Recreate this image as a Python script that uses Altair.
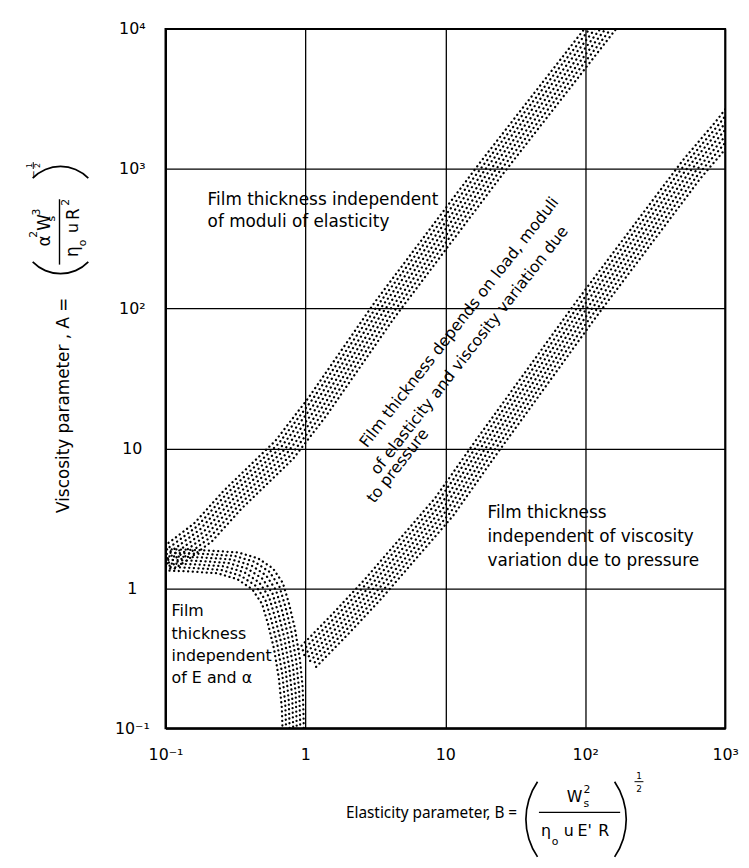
import math
import altair as alt
import pandas as pd

# ---------------- values ----------------
x_ticks = [0.1, 1, 10, 100, 1000]
x_tick_labels = ["10⁻¹", "1", "10", "10²", "10³"]
y_ticks = [0.1, 1, 10, 100, 1000, 10000]
y_tick_labels = ["10⁻¹", "1", "10", "10²", "10³", "10⁴"]

# centre lines of the stippled transition bands (B = elasticity, A = viscosity)
upper_band_B = [0.08, 0.1, 0.124, 0.186, 0.303, 0.707, 1.21, 3.67, 21.0, 128, 161]
upper_band_A = [1.6, 1.6, 1.85, 2.52, 4.32, 9.8, 19.7, 97.5, 986, 10000, 13400]

lower_band_B = [1.03, 1.76, 3.02, 9.76, 19.0, 100.5, 574, 1000, 1236]
lower_band_A = [0.318, 0.55, 0.98, 3.8, 9.77, 97.5, 986, 1895, 2500]

left_band_B = [0.08, 0.1, 0.171, 0.279, 0.387, 0.494, 0.582, 0.641, 0.707, 0.767, 0.805, 0.818, 0.82]
left_band_A = [1.6, 1.6, 1.57, 1.52, 1.38, 1.17, 0.918, 0.663, 0.441, 0.27, 0.166, 0.1, 0.08]

region_texts = [
    "Film thickness independent\nof moduli of elasticity",
    "Film\nthickness\nindependent\nof E and α",
    "Film thickness\nindependent of viscosity\nvariation due to pressure",
]
diagonal_lines = [
    "Film thickness depends on load, moduli",
    "of elasticity and viscosity variation due",
    "to pressure",
]

# ---------------- layout ----------------
FONT = "DejaVu Sans"
W, H = 565, 706
PX0, PY0 = 167, 25  # page position of the plot's top-left corner

x_scale = alt.Scale(type="log", domain=[0.1, 1000], nice=False)
y_scale = alt.Scale(type="log", domain=[0.1, 10000], nice=False)


def label_expr(vals, labels):
    parts = [f"datum.value == {v} ? '{l}'" for v, l in zip(vals, labels)]
    return " : ".join(parts) + " : ''"


x_axis = alt.Axis(values=x_ticks, labelExpr=label_expr(x_ticks, x_tick_labels), title=None,
                  grid=True, ticks=False, tickSize=0, labelPadding=19, labelFlush=False,
                  labelOverlap=False)
y_axis = alt.Axis(values=y_ticks, labelExpr=label_expr(y_ticks, y_tick_labels), title=None,
                  grid=True, ticks=False, tickSize=0, labelPadding=34, labelAlign="center",
                  labelBaseline="middle", labelFlush=False, labelOverlap=False)

X = alt.X("B:Q", scale=x_scale, axis=x_axis)
Y = alt.Y("A:Q", scale=y_scale, axis=y_axis)

layers = []

# invisible layer carrying the axes
layers.append(alt.Chart(pd.DataFrame({"B": x_ticks[:5], "A": y_ticks[:5]}))
              .mark_point(opacity=0).encode(x=X, y=Y))


def stipple(xs, ys, diag=True, offs=(-9, -6, -3, 0, 3, 6, 9)):
    df = pd.DataFrame({"B": xs, "A": ys, "i": list(range(len(xs)))})
    out = []
    for j, k in enumerate(offs):
        dx, dy = (k, k) if diag else (k, -k)
        out.append(
            alt.Chart(df).mark_line(
                clip=True, color="black", strokeWidth=2.3, strokeCap="round",
                strokeDash=[0.1, 4.6], strokeDashOffset=2.35 * (j % 2),
                xOffset=dx, yOffset=dy,
            ).encode(x=X, y=Y, order="i:Q")
        )
    return out


layers += stipple(upper_band_B, upper_band_A, True)
layers += stipple(lower_band_B, lower_band_A, True)
layers += stipple(left_band_B, left_band_A, False, offs=(-10.5, -7, -3.5, 0, 3.5, 7, 10.5))


# region labels (data coordinates)
def dtext(s, bx, ay, size=16, angle=0, align="left", lh=23):
    df = pd.DataFrame({"B": [bx], "A": [ay]})
    kw = dict(text=s, font=FONT, fontSize=size, align=align, baseline="alphabetic",
              color="black", lineBreak="\n", lineHeight=lh)
    if angle:
        kw["angle"] = angle
    return alt.Chart(df).mark_text(**kw).encode(x=X, y=Y)


layers.append(dtext(region_texts[0], 0.2, 548, size=17, lh=22))
layers.append(dtext(region_texts[1], 0.1105, 0.631, size=16, lh=22.5))
layers.append(dtext(region_texts[2], 20.0, 3.17, size=17, lh=24))
for s, bx, ay in zip(diagonal_lines, [2.75, 3.3, 3.1], [10.0, 6.4, 4.0]):
    layers.append(dtext(s, bx, ay, size=16, angle=308))

# ---------------- axis titles (page pixel positions) ----------------
one = pd.DataFrame({"k": [0]})


def ptext(s, x, y, size=16, angle=0, align="center", font=FONT):
    kw = dict(text=s, font=font, fontSize=size, align=align, baseline="alphabetic", color="black")
    if angle:
        kw["angle"] = angle
    return alt.Chart(one).mark_text(**kw).encode(x=alt.value(x - PX0), y=alt.value(y - PY0))


def prule(x1, y1, x2, y2, w=1.4):
    return alt.Chart(one).mark_rule(color="black", strokeWidth=w).encode(
        x=alt.value(x1 - PX0), x2=alt.value(x2 - PX0), y=alt.value(y1 - PY0), y2=alt.value(y2 - PY0))


def parc(cx, cy, r, t1, t2):
    return alt.Chart(one).mark_arc(color="black", theta=t1, theta2=t2, radius=r, radius2=r - 1.7).encode(
        x=alt.value(cx - PX0), y=alt.value(cy - PY0))


PI = math.pi
# y title
layers += [
    ptext("Viscosity parameter , A =", 70, 405, 17, 270),
    ptext("α", 50, 239, 17, 270),
    ptext("2", 37, 232.5, 11, 270),
    ptext("W", 50, 220.5, 17, 270),
    ptext("s", 55, 216.5, 11, 270),
    ptext("3", 40, 210, 11, 270),
    prule(60, 197, 60, 263),
    ptext("η", 79, 250, 17, 270),
    ptext("o", 87, 241, 11, 270),
    ptext("u", 79, 226, 16, 270),
    ptext("R", 80, 212, 17, 270),
    ptext("2", 70, 200, 11, 270),
    parc(61, 233, 40, PI - 0.8, PI + 0.8),
    parc(61, 203, 40, 2 * PI - 0.8, 2 * PI + 0.8),
    ptext("−", 37, 172, 10, 270),
    ptext("1", 32, 163, 8, 270),
    ptext("2", 40, 163, 8, 270),
    prule(33.5, 159.5, 33.5, 166.5, 1),
]

# x title
layers += [
    ptext("Elasticity parameter, B =", 522, 822, 15.5, 0, "right", "Noto Sans"),
    parc(598, 823, 68, 1.5 * PI - 0.6, 1.5 * PI + 0.6),
    parc(565, 823, 68, 0.5 * PI - 0.6, 0.5 * PI + 0.6),
    ptext("W", 580, 806, 16),
    ptext("s", 589, 811, 11, 0, "left"),
    ptext("2", 589, 796, 11, 0, "left"),
    prule(544, 816, 626, 816),
    ptext("η", 546, 840, 16, 0, "left"),
    ptext("o", 557, 849, 11, 0, "left"),
    ptext("u", 569, 840, 16, 0, "left"),
    ptext("E'", 583, 840, 16, 0, "left"),
    ptext("R", 604, 840, 16, 0, "left"),
    ptext("1", 645, 782, 9),
    prule(640.5, 785, 649.5, 785, 1),
    ptext("2", 645, 795, 9),
]

chart = alt.layer(*layers).properties(
    width=W, height=H,
    autosize=alt.AutoSizeParams(type="none"),
    padding={"left": PX0 - 8, "top": PY0 - 8, "right": 16, "bottom": 852 - (PY0 - 8) - H},
).configure_view(stroke="black", strokeWidth=2).configure_axis(
    domainColor="black", domainWidth=2, gridColor="black", gridWidth=1.3, gridOpacity=1,
    labelFont=FONT, labelFontSize=16, labelColor="black",
)

chart.save("out.html", embed_options={"renderer": "svg", "actions": False})
